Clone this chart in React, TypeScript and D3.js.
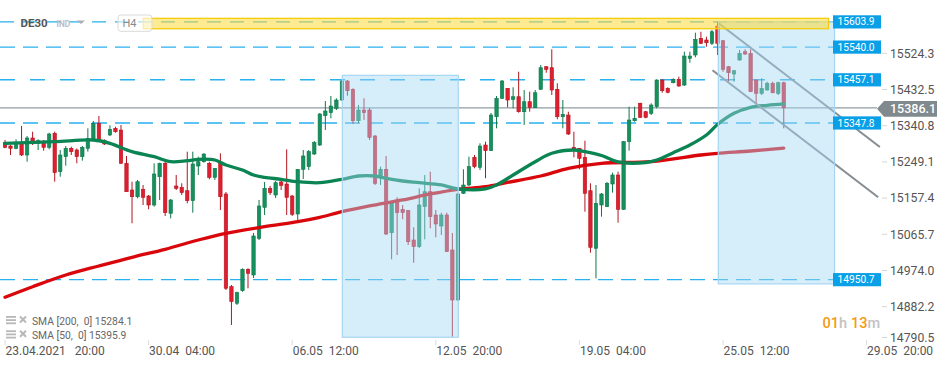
import React from 'react';
import * as d3 from 'd3';

// ---- data ----
const opens = [15297.8,15289.4,15283.6,15296.2,15266.6,15309.7,15296.2,15296.2,15286.1,15321.6,15224.3,15262.3,15283.6,15279.3,15262.3,15283.6,15306.4,15346.9,15302.8,15317.3,15334.2,15329.9,15245.6,15177.9,15160.9,15179.7,15162.7,15139.9,15211.6,15245.6,15118.9,15188.1,15184.8,15176.1,15150.8,15238.7,15249.6,15245.6,15210.1,15247.1,15167.8,14932.9,14890.9,14922.8,14977.0,14962.6,15055.5,15134.1,15182.2,15165.2,15198.2,15193.1,15162.7,15117.1,15230.4,15237.0,15269.1,15291.9,15366.2,15373.8,15384.9,15405.9,15454.1,15433.1,15353.5,15380.6,15380.6,15314.7,15211.6,15230.4,15069.7,15152.6,15129.0,15125.5,15051.2,15034.3,15135.6,15173.6,15114.6,15086.7,15114.6,15025.9,14899.2,15169.6,15190.6,15260.8,15235.4,15291.9,15277.5,15363.6,15410.3,15435.6,15407.7,15414.3,15376.3,15401.6,15386.4,15433.1,15490.3,15487.8,15433.1,15363.6,15367.9,15286.1,15283.6,15260.8,15176.1,15030.2,15139.9,15135.6,15193.1,15215.9,15129.0,15300.3,15353.5,15397.6,15376.3,15372.2,15389.0,15456.6,15435.6,15449.8,15458.4,15443.9,15511.6,15520.0,15562.3,15558.0,15549.6,15593.4,15556.2,15490.3,15471.8,15507.3,15528.3,15524.3,15456.6,15422.9,15431.3,15448.3,15422.9,15449.8];
const highs = [15304.6,15291.9,15306.4,15340.1,15314.7,15325.6,15306.4,15304.6,15323.1,15325.6,15279.3,15289.4,15287.6,15283.1,15289.4,15334.2,15352.7,15365.4,15306.4,15341.8,15338.3,15342.6,15264.1,15198.9,15203.3,15190.6,15165.2,15245.6,15247.1,15249.6,15155.1,15215.9,15194.9,15275.0,15275.0,15262.3,15270.9,15249.6,15232.9,15270.9,15172.9,14937.2,14920.3,14979.5,14979.5,15069.0,15152.6,15198.2,15188.1,15200.7,15203.3,15281.0,15165.2,15231.1,15279.3,15279.3,15302.1,15373.0,15403.4,15416.1,15410.3,15456.6,15456.6,15435.6,15393.3,15410.3,15385.7,15317.3,15237.0,15264.1,15147.5,15159.4,15139.9,15127.2,15083.4,15182.2,15215.9,15224.3,15127.2,15120.4,15120.4,15069.0,15170.3,15230.4,15262.3,15266.6,15296.2,15300.3,15373.0,15416.1,15456.6,15436.3,15438.1,15477.6,15431.3,15427.0,15431.3,15494.6,15492.1,15534.4,15448.3,15405.9,15376.3,15325.6,15284.3,15302.8,15194.9,15190.6,15170.3,15198.2,15221.8,15224.3,15302.1,15389.0,15389.0,15399.1,15378.1,15397.6,15458.4,15458.4,15438.1,15460.9,15465.0,15528.3,15528.3,15576.5,15579.0,15566.3,15583.3,15603.9,15558.0,15492.1,15482.0,15532.6,15534.4,15534.4,15457.9,15460.9,15452.3,15452.3,15452.3,15452.3];
const lows = [15283.6,15266.6,15281.0,15264.1,15249.6,15291.9,15279.3,15277.5,15281.0,15198.9,15211.6,15239.5,15266.6,15245.6,15252.2,15275.0,15303.3,15302.1,15291.9,15314.7,15323.1,15243.8,15172.9,15093.6,15156.9,15139.9,15129.0,15135.6,15152.6,15112.0,15106.2,15177.9,15165.2,15144.2,15120.4,15215.9,15247.1,15205.0,15203.3,15127.2,14924.6,14835.9,14886.6,14920.3,14928.9,14955.0,15051.2,15114.6,15165.2,15157.7,15177.9,15114.6,15112.0,15101.9,15205.8,15228.6,15266.6,15289.4,15329.9,15359.6,15380.6,15403.4,15416.8,15345.1,15346.9,15355.3,15304.6,15190.6,15190.6,15063.9,15002.3,15013.2,15103.7,15038.6,14993.7,15031.0,15053.0,15080.9,15058.1,15063.9,15020.8,14806.2,14896.7,15167.8,15188.1,15232.9,15228.6,15207.6,15276.7,15334.2,15408.5,15387.4,15384.9,15373.8,15342.6,15376.3,15385.7,15431.3,15475.1,15418.6,15357.0,15334.2,15317.3,15260.8,15230.4,15122.9,15019.1,14954.2,15110.3,15134.8,15171.1,15095.1,15127.2,15277.5,15351.0,15360.8,15359.6,15367.9,15384.9,15424.4,15422.9,15448.3,15439.6,15441.4,15500.4,15514.1,15547.8,15541.0,15545.3,15520.0,15477.6,15452.3,15452.3,15505.5,15520.0,15426.2,15397.6,15418.6,15430.0,15422.9,15418.6,15334.2];
const closes = [15286.1,15283.6,15296.2,15266.6,15309.7,15297.8,15302.8,15286.1,15319.8,15221.8,15266.6,15283.6,15275.0,15262.3,15286.1,15308.9,15346.9,15304.6,15294.5,15331.7,15325.6,15245.6,15173.6,15160.9,15198.9,15159.4,15139.9,15218.5,15245.6,15120.4,15152.6,15182.2,15171.1,15150.8,15243.8,15249.6,15269.1,15210.1,15232.9,15160.9,14928.9,14894.9,14917.7,14977.0,14966.9,15061.4,15137.4,15182.2,15171.1,15196.4,15189.8,15159.4,15116.4,15230.4,15264.1,15275.0,15297.8,15370.5,15378.1,15390.7,15405.9,15454.1,15429.5,15353.5,15380.6,15373.8,15311.4,15194.9,15230.4,15066.4,15145.7,15120.4,15120.4,15046.9,15034.3,15139.9,15173.6,15110.3,15091.8,15114.6,15021.6,14899.2,15167.8,15190.6,15237.0,15237.0,15289.4,15277.5,15367.9,15410.3,15454.1,15405.9,15414.3,15376.3,15401.6,15387.4,15424.4,15487.8,15483.7,15431.3,15363.6,15369.7,15319.8,15281.0,15258.2,15169.6,15032.7,15144.2,15167.8,15194.9,15215.9,15129.0,15300.3,15355.3,15359.6,15362.1,15362.1,15393.3,15456.6,15429.5,15425.5,15458.4,15441.4,15517.4,15517.4,15559.7,15549.6,15551.1,15579.0,15549.6,15483.7,15475.1,15480.2,15524.3,15522.5,15427.0,15422.9,15435.6,15448.3,15424.4,15449.8,15386.1];

const sma50Idx = [0,9,16,19,23,27,30,33,35,38,40,43,45,47,50,53,57,61,64,67,69,72,75,79,82,87,89,92,96,99,103,105,108,111,116,118,121,124,127,129,132,135,138,141];
const sma50Val = [15296.2,15300.3,15304.6,15296.2,15275.0,15262.3,15249.6,15252.2,15255.7,15253.9,15241.3,15228.6,15215.9,15210.1,15205.0,15198.9,15196.4,15205.0,15213.4,15213.4,15207.6,15200.7,15196.4,15190.6,15180.5,15180.5,15190.6,15215.9,15249.6,15270.9,15279.3,15275.0,15265.3,15248.9,15247.6,15253.9,15272.4,15291.9,15317.3,15343.9,15372.2,15387.4,15392.5,15395.9];
const sma200Idx = [0,5,11,17,23,29,35,40,47,53,57,61,66,72,77,82,87,91,97,102,108,117,126,129,135,141];
const sma200Val = [14906.1,14932.9,14962.6,14985.4,15007.4,15027.7,15051.2,15068.2,15084.9,15097.6,15108.7,15122.9,15137.4,15152.6,15167.8,15179.7,15186.3,15197.4,15213.4,15232.9,15245.6,15249.6,15266.6,15270.9,15276.7,15284.1];

const xTickIdx = [0, 26, 52, 78, 104, 130, 156];
const xTickDates = ['23.04.2021', '30.04', '06.05', '12.05', '19.05', '25.05', '29.05'];
const xTickTimes = ['20:00', '04:00', '12:00', '20:00', '04:00', '12:00', '20:00'];
const yTicks = [15524.3, 15432.5, 15340.8, 15249.1, 15157.4, 15065.7, 14974.0, 14882.2, 14790.5];
const levels = [15603.9, 15540.0, 15457.1, 15347.8, 14950.7];
const lastPrice = 15386.1;
const sma200Last = 15284.1;
const sma50Last = 15395.9;

// zones: start/end bar index, top/bottom value
const zoneStart = [61.07, 129.15];
const zoneEnd = [82.07, 150.2];
const zoneTop = [15468.5, 15603.9];
const zoneBottom = [14804.7, 14940.0];

// trend lines: [idx0, val0, idx1, val1]
const trendA = [129.15, 15601.0, 158.4, 15286.9];
const trendB = [128.1, 15481.2, 158.1, 15159.4];

// resistance band
const bandIdx = [25.04, 149.1];
const bandVal = [15612.9, 15586.6];

const levelDash = ['14 9', '15 8', '15 15', '15 8', '15 8'];

export default function App() {
  const x = d3.scaleLinear().domain([0, 156]).range([5, 866.6]);
  const y = d3.scaleLinear().domain([14882.2, 15524.3]).range([306.7, 53.3]);
  const bw = 3.4;
  const green = '#16905d', greenDark = '#0d774a';
  const red = '#df1f30', redDark = '#b3141f';

  const line = d3.line<[number, number]>()
    .x(d => x(d[0]))
    .y(d => y(d[1]))
    .curve(d3.curveCatmullRom.alpha(0.5));
  const sma50Pts: [number, number][] = sma50Idx.map((v, k) => [v, sma50Val[k]]);
  const sma200Pts: [number, number][] = sma200Idx.map((v, k) => [v, sma200Val[k]]);

  const priceY = y(lastPrice);
  const plotRight = 833;

  return (
    <svg width={950} height={368} style={{ position: 'absolute', left: 0, top: 0, background: '#fff' }}
      fontFamily="Roboto, 'Noto Sans', sans-serif">
      <rect x={0} y={0} width={950} height={368} fill="#fff" />
      {levels.map((lv, k) => (
        <line key={'lv' + k} x1={0} x2={plotRight} y1={y(lv)} y2={y(lv)}
          stroke="#29b0ee" strokeWidth={1.4} strokeDasharray={levelDash[k]} />
      ))}
      <line x1={0} x2={877} y1={priceY} y2={priceY} stroke="#8f9ca2" strokeWidth={1.3} />

      {opens.map((o, i) => {
        const c = closes[i];
        const up = c >= o;
        const cx = x(i);
        const top = y(Math.max(o, c));
        const h = Math.max(1, Math.abs(y(o) - y(c)));
        return (
          <g key={'c' + i}>
            <line x1={cx} x2={cx} y1={y(highs[i])} y2={y(lows[i])} stroke={up ? greenDark : redDark} strokeWidth={1} />
            <rect x={cx - bw / 2} y={top} width={bw} height={h} fill={up ? green : red}
              stroke={up ? greenDark : redDark} strokeWidth={0.6} />
          </g>
        );
      })}

      <path d={line(sma200Pts) || ''} fill="none" stroke="#d9070c" strokeWidth={3.3} strokeLinecap="round" />
      <path d={line(sma50Pts) || ''} fill="none" stroke="#0a8453" strokeWidth={3.3} strokeLinecap="round" />

      {[trendA, trendB].map((t, k) => (
        <line key={'t' + k} x1={x(t[0])} y1={y(t[1])} x2={x(t[2])} y2={y(t[3])}
          stroke="#868d92" strokeWidth={2} />
      ))}

      {zoneStart.map((s, k) => (
        <rect key={'z' + k} x={x(s)} y={y(zoneTop[k])} width={x(zoneEnd[k]) - x(s)}
          height={y(zoneBottom[k]) - y(zoneTop[k])}
          fill="rgb(164,215,244)" fillOpacity={0.45} stroke="#a6d6f1" strokeWidth={1.2} />
      ))}

      <rect x={x(bandIdx[0])} y={y(bandVal[0])} width={x(bandIdx[1]) - x(bandIdx[0])}
        height={y(bandVal[1]) - y(bandVal[0])} fill="#fdd835" fillOpacity={0.55}
        stroke="#f6cd0a" strokeWidth={1.3} />

      {levels.map((lv, k) => (
        <g key={'ll' + k}>
          <rect x={833} y={y(lv) - 6.6} width={48} height={13.2} fill="#0aa0e8" />
          <text x={837.5} y={y(lv) + 3.6} fontSize={10.2} fill="#fff">{lv.toFixed(1)}</text>
        </g>
      ))}

      {yTicks.map((t, k) => {
        const ty = Math.min(y(t), 337.5);
        return (
          <g key={'yt' + k}>
            <line x1={882} x2={887} y1={ty} y2={ty} stroke="#d5d5d5" strokeWidth={1} />
            <text x={890} y={ty + 4.3} fontSize={12.2} fill="#555">{t.toFixed(1)}</text>
          </g>
        );
      })}

      <path d={`M877,${priceY + 1} L884,${priceY - 6.8} L937,${priceY - 6.8} L937,${priceY + 8.8} L884,${priceY + 8.8} Z`}
        fill="#7f898e" />
      <text x={890} y={priceY + 5.5} fontSize={12.5} fill="#fff" fontWeight={500}>{lastPrice.toFixed(1)}</text>

      {xTickIdx.map((ti, k) => (
        <g key={'xt' + k}>
          <line x1={x(ti)} x2={x(ti)} y1={340} y2={345} stroke="#dcdcdc" />
          <text x={x(ti) + 0.5} y={355} fontSize={12} fill="#555">
            {xTickDates[k]}
            <tspan dx={k === 0 ? 9 : 6}>{xTickTimes[k]}</tspan>
          </text>
        </g>
      ))}

      {[['SMA [200,  0]', sma200Last], ['SMA [50,  0]', sma50Last]].map((row, k) => {
        const ly = 321 + k * 14.3;
        return (
          <g key={'lg' + k}>
            <rect x={6} y={ly - 5} width={10} height={1.8} fill="#b8b8b8" />
            <rect x={6} y={ly - 1.8} width={10} height={1.8} fill="#b8b8b8" />
            <rect x={6} y={ly + 1.4} width={10} height={1.8} fill="#b8b8b8" />
            <line x1={20} y1={ly - 4.5} x2={26} y2={ly + 1.5} stroke="#b8b8b8" strokeWidth={2} />
            <line x1={26} y1={ly - 4.5} x2={20} y2={ly + 1.5} stroke="#b8b8b8" strokeWidth={2} />
            <text x={32} y={ly + 4} fontSize={10.3} fill="#666" style={{ whiteSpace: 'pre' }}>
              {String(row[0]) + ' ' + Number(row[1]).toFixed(1)}
            </text>
          </g>
        );
      })}

      <text x={20.5} y={27.3} fontSize={11.5} fontWeight={700} fill="#555">DE30</text>
      <text x={56.5} y={27} fontSize={8.3} fontWeight={700} fill="#bdbdbd">IND</text>
      <path d="M77,20.5 L85,20.5 L81,24 Z" fill="#b0b0b0" />
      <rect x={118} y={15} width={34} height={16.3} rx={3} fill="#fff" fillOpacity={0.6} stroke="#dadada" />
      <text x={122.5} y={27.3} fontSize={11} fill="#8a8a8a">H4</text>

      <text x={822.5} y={327.8} fontSize={14.5} fontWeight={500}>
        <tspan fill="#f39a12">01</tspan>
        <tspan fill="#c2c2c2">h</tspan>
        <tspan fill="#f39a12" dx={4}>13</tspan>
        <tspan fill="#c2c2c2">m</tspan>
      </text>
    </svg>
  );
}
